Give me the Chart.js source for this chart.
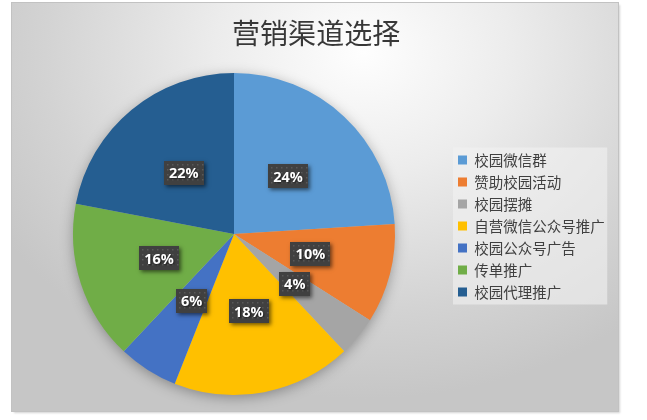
<!DOCTYPE html>
<html>
<head>
<meta charset="utf-8">
<script src="https://cdn.jsdelivr.net/npm/chart.js@4.4.1/dist/chart.umd.min.js"></script>
<style>
	body{margin:0;background:#fff;font-family:"Noto Sans CJK SC";}
	#frame{position:absolute;left:12px;top:3px;width:606px;height:408px;
		background:radial-gradient(ellipse 70% 85% at 58% 12%, #fefefe 0%, #ececec 35%, #d3d3d3 75%, #c6c6c6 100%);
		box-shadow:0 0 0 1px #c2c2c2, 2px 2px 2px rgba(0,0,0,0.18);}
	#pieChart{position:absolute;left:0;top:0;}
</style>
</head>
<body>
	<div id="frame"><canvas id="pieChart" width="606" height="408"></canvas></div>
</body>
</html>
<script>
	var channels = ["校园微信群","赞助校园活动","校园摆摊","自营微信公众号推广","校园公众号广告","传单推广","校园代理推广"];
	var shares = [24,10,4,18,6,16,22];
	var sliceColors = ["#5B9BD5","#ED7D31","#A5A5A5","#FFC000","#4472C4","#70AD47","#255E91"];

	// soft halo under the pie
	var pieShadow = {
		id:"pieShadow",
		beforeDatasetsDraw:function(chart){
			var arc = chart.getDatasetMeta(0).data[0];
			if(!arc) return;
			var ctx = chart.ctx;
			ctx.save();
			ctx.shadowColor = "rgba(0,0,0,0.35)";
			ctx.shadowBlur = 14;
			ctx.shadowOffsetY = 3;
			ctx.fillStyle = "#bbb";
			ctx.beginPath();
			ctx.arc(arc.x, arc.y, arc.outerRadius-1, 0, Math.PI*2);
			ctx.fill();
			ctx.restore();
		}
	};

	// dark percent boxes inside the slices
	var sliceLabels = {
		id:"sliceLabels",
		afterDatasetsDraw:function(chart){
			var ctx = chart.ctx;
			var meta = chart.getDatasetMeta(0);
			ctx.save();
			ctx.font = "bold 14.5px 'Open Sans'";
			ctx.textAlign = "center";
			ctx.textBaseline = "middle";
			meta.data.forEach(function(arc,i){
				var mid = (arc.startAngle+arc.endAngle)/2;
				var r = arc.outerRadius*0.49;
				var cx = arc.x+Math.cos(mid)*r;
				var cy = arc.y+Math.sin(mid)*r;
				var text = shares[i]+"%";
				var w = Math.round(ctx.measureText(text).width)+10, h = 24;
				var x0 = Math.round(cx-w/2), y0 = Math.round(cy-h/2);
				ctx.save();
				ctx.shadowColor = "rgba(0,0,0,0.55)";
				ctx.shadowBlur = 4;
				ctx.shadowOffsetX = 2;
				ctx.shadowOffsetY = 2;
				ctx.fillStyle = "#404040";
				ctx.fillRect(x0,y0,w,h);
				ctx.restore();
				ctx.fillStyle = "#595959";
				for(var dx=3;dx<w-1;dx+=5){
					for(var dy=3;dy<h-1;dy+=5){
						ctx.fillRect(x0+dx,y0+dy,1.5,1.5);
					}
				}
				ctx.save();
				ctx.shadowColor = "rgba(0,0,0,0.6)";
				ctx.shadowBlur = 2;
				ctx.shadowOffsetX = 1;
				ctx.shadowOffsetY = 1;
				ctx.fillStyle = "#fff";
				ctx.fillText(text,cx,cy+1);
				ctx.restore();
			});
			ctx.restore();
		}
	};

	// move the legend down to where it sits in the picture and give it a light panel
	var legendPanel = {
		id:"legendPanel",
		afterLayout:function(chart){
			chart.legend.top += 27;
			chart.legend.bottom += 27;
		},
		beforeDraw:function(chart){
			var lg = chart.legend;
			var pad = lg.options.labels.padding;
			var colH = lg.columnSizes[0].height;
			var top = (lg.top+pad+lg.bottom-colH)/2;
			var ctx = chart.ctx;
			ctx.save();
			ctx.fillStyle = "rgba(242,242,242,0.6)";
			ctx.fillRect(lg.left+2.5, top-5.25, lg.width-10, colH+3);
			ctx.restore();
		}
	};

	Chart.defaults.font.family = "'Noto Sans CJK SC'";
	var target = document.getElementById("pieChart").getContext("2d");
	var pie = new Chart(target,{
		type:"pie",
		data:{
			labels:channels,
			datasets:[{
				data:shares,
				backgroundColor:sliceColors,
				borderWidth:0
			}]
		},
		options:{
			responsive:false,
			animation:false,
			layout:{padding:{left:5.5,right:3.25,top:0,bottom:16}},
			plugins:{
				title:{
					display:true,
					text:"营销渠道选择",
					color:"#383838",
					font:{family:"'Noto Sans CJK SC'",size:28,weight:"normal"},
					padding:{top:13.2,bottom:23.2}
				},
				legend:{
					position:"right",
					labels:{
						boxWidth:9,
						boxHeight:9,
						padding:7.5,
						color:"#404040",
						font:{size:14.5}
					}
				},
				tooltip:{enabled:false}
			}
		},
		plugins:[pieShadow,sliceLabels,legendPanel]
	});
</script>
